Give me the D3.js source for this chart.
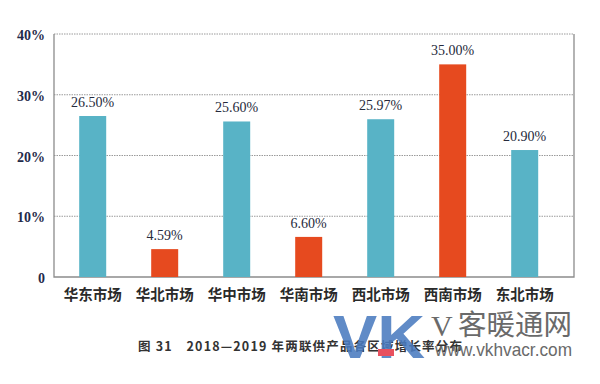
<!DOCTYPE html>
<html>
<head>
<meta charset="utf-8">
<script src="https://cdn.jsdelivr.net/npm/d3@7"></script>
<style>
  html, body { margin: 0; padding: 0; background: #fff; }
  svg { display: block; }
</style>
</head>
<body>
<div id="chart"></div>
<script>
// chart data
const regions = ['华东市场', '华北市场', '华中市场', '华南市场', '西北市场', '西南市场', '东北市场'];
const growth = [26.50, 4.59, 25.60, 6.60, 25.97, 35.00, 20.90];
const highlighted = [false, true, false, true, false, true, false];
const yTicks = [0, 10, 20, 30, 40];
const caption = '图 31　2018—2019 年两联供产品各区域增长率分布';

const W = 600, H = 384;
const plot = { left: 54, right: 574, top: 34, bottom: 277 };

const svg = d3.select('#chart').append('svg')
  .attr('width', W)
  .attr('height', H);

const y = d3.scaleLinear().domain([0, 40]).range([plot.bottom, plot.top]);

// bars sit a bit left of centre inside the frame
const x = d3.scaleBand()
  .domain(regions)
  .range([56.7, 560.7])
  .paddingInner(0.625)
  .paddingOuter(0.3125);

// dotted gridlines
svg.append('g')
  .selectAll('line')
  .data(yTicks.filter(d => d > 0))
  .join('line')
  .attr('x1', plot.left)
  .attr('x2', plot.right)
  .attr('y1', d => y(d))
  .attr('y2', d => y(d))
  .attr('stroke', '#9a9a9a')
  .attr('stroke-width', 1)
  .attr('stroke-dasharray', '1.5,1');

// frame: left, bottom, right
svg.append('path')
  .attr('d', `M${plot.left},${plot.top}V${plot.bottom}H${plot.right}V${plot.top}`)
  .attr('fill', 'none')
  .attr('stroke', '#8c8c8c')
  .attr('stroke-width', 1.3);

// y axis labels
const yAxis = d3.axisLeft(y)
  .tickValues(yTicks)
  .tickSize(0)
  .tickPadding(9)
  .tickFormat(d => d === 0 ? '0' : d + '%');

svg.append('g')
  .attr('transform', `translate(${plot.left},0)`)
  .call(yAxis)
  .call(g => g.select('.domain').remove())
  .call(g => g.selectAll('text')
    .attr('dy', '0.4em')
    .style('font-family', '"Liberation Serif", "DejaVu Serif", serif')
    .style('font-size', '14px')
    .style('font-weight', 'bold')
    .attr('fill', '#1f2b4a'));

// bars
svg.append('g')
  .selectAll('rect')
  .data(regions)
  .join('rect')
  .attr('x', d => x(d))
  .attr('width', x.bandwidth())
  .attr('y', (d, i) => y(growth[i]))
  .attr('height', (d, i) => plot.bottom - y(growth[i]))
  .attr('fill', (d, i) => highlighted[i] ? '#e64a1f' : '#58b3c6');

// value labels
svg.append('g')
  .selectAll('text')
  .data(regions)
  .join('text')
  .attr('x', d => x(d) + x.bandwidth() / 2)
  .attr('y', (d, i) => y(growth[i]) - 9)
  .attr('text-anchor', 'middle')
  .style('font-family', '"Liberation Serif", "DejaVu Serif", serif')
  .style('font-size', '14px')
  .attr('fill', '#262a3c')
  .text((d, i) => growth[i].toFixed(2) + '%');

// category labels
const xAxis = d3.axisBottom(x).tickSize(0).tickPadding(13);
svg.append('g')
  .attr('transform', `translate(0,${plot.bottom})`)
  .call(xAxis)
  .call(g => g.select('.domain').remove())
  .call(g => g.selectAll('text')
    .style('font-family', '"Noto Sans CJK SC", sans-serif')
    .style('font-size', '14.5px')
    .style('font-weight', 'bold')
    .attr('fill', '#2a2a2a'));

// caption
svg.append('text')
  .attr('x', 138)
  .attr('y', 351)
  .attr('textLength', 324)
  .attr('lengthAdjust', 'spacing')
  .style('font-family', '"Noto Sans CJK SC", sans-serif')
  .style('font-size', '12.5px')
  .style('font-weight', 'bold')
  .attr('fill', '#333')
  .text(caption);

// watermark
const mark = svg.append('g');
mark.append('text')
  .attr('x', 333)
  .attr('y', 358)
  .attr('textLength', 92)
  .attr('lengthAdjust', 'spacingAndGlyphs')
  .style('font-family', '"Liberation Sans", Arial, sans-serif')
  .style('font-size', '62px')
  .style('font-weight', 'bold')
  .attr('fill', '#4a7bbf')
  .attr('fill-opacity', 0.88)
  .text('VK');
mark.append('rect')
  .attr('x', 378)
  .attr('y', 349)
  .attr('width', 16)
  .attr('height', 7)
  .attr('fill', '#e8505f');
mark.append('text')
  .attr('x', 431)
  .attr('y', 336)
  .style('font-family', '"Liberation Serif", serif')
  .style('font-size', '30px')
  .attr('fill', '#6a6a6a')
  .text('V');
mark.append('text')
  .attr('x', 458)
  .attr('y', 335)
  .attr('textLength', 114)
  .attr('lengthAdjust', 'spacingAndGlyphs')
  .style('font-family', '"Noto Sans CJK SC", sans-serif')
  .style('font-size', '28px')
  .attr('fill', '#6a6a6a')
  .text('客暖通网');
mark.append('text')
  .attr('x', 435)
  .attr('y', 356)
  .attr('textLength', 137)
  .attr('lengthAdjust', 'spacingAndGlyphs')
  .style('font-family', '"Liberation Sans", Arial, sans-serif')
  .style('font-size', '19px')
  .attr('fill', '#6a6a6a')
  .text('www.vkhvacr.com');
</script>
</body>
</html>
